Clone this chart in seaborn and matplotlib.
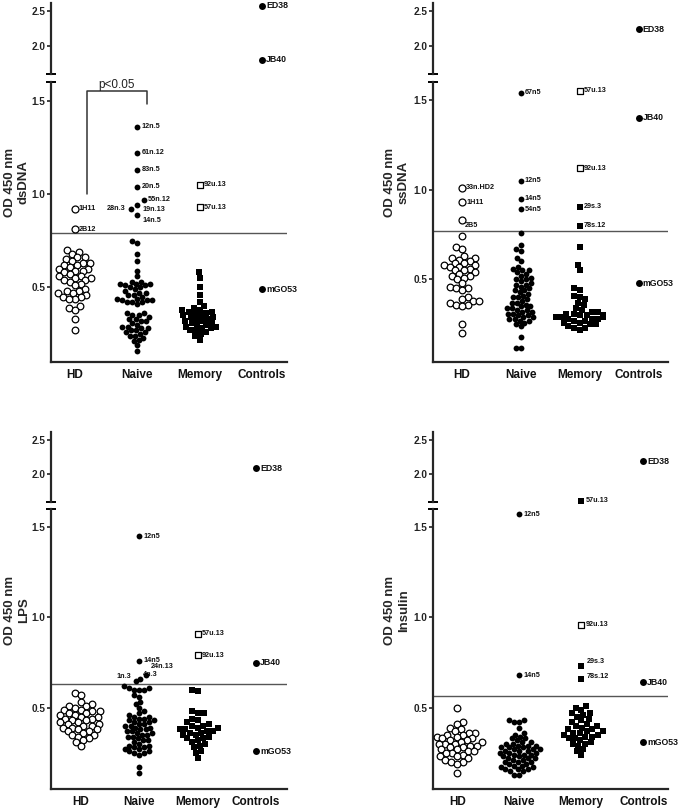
import matplotlib
matplotlib.use("Agg")
import matplotlib.pyplot as plt
import seaborn as sns
import pandas as pd

categories = ['HD', 'Naive', 'Memory', 'Controls']

# ---- dsDNA ----
dsdna_hd = [0.70, 0.69, 0.68, 0.66, 0.66, 0.65, 0.64, 0.63, 0.63, 0.62, 0.62, 0.61, 0.60, 0.60,
            0.59, 0.59, 0.58, 0.57, 0.56, 0.56, 0.55, 0.55, 0.54, 0.54, 0.53, 0.52, 0.51, 0.49,
            0.48, 0.48, 0.47, 0.47, 0.46, 0.45, 0.45, 0.44, 0.44, 0.40, 0.39, 0.38, 0.33, 0.27]
dsdna_naive = [0.75, 0.74, 0.68, 0.64, 0.59, 0.56, 0.53, 0.53, 0.52, 0.52, 0.52, 0.51, 0.51, 0.50,
               0.50, 0.49, 0.48, 0.47, 0.47, 0.46, 0.46, 0.45, 0.44, 0.44, 0.43, 0.43, 0.43, 0.42,
               0.42, 0.42, 0.41, 0.36, 0.36, 0.35, 0.35, 0.34, 0.33, 0.33, 0.32, 0.32, 0.31, 0.30,
               0.29, 0.29, 0.28, 0.28, 0.27, 0.27, 0.26, 0.26, 0.25, 0.24, 0.24, 0.23, 0.22, 0.21,
               0.19, 0.16]
dsdna_memory = [0.58, 0.55, 0.50, 0.46, 0.42, 0.40, 0.39, 0.38, 0.38, 0.37, 0.37, 0.36, 0.36, 0.35,
                0.35, 0.34, 0.34, 0.33, 0.33, 0.32, 0.32, 0.31, 0.31, 0.30, 0.30, 0.29, 0.29, 0.28,
                0.28, 0.27, 0.27, 0.26, 0.25, 0.24, 0.22]
dsdna_flag_names = ['1H11', '2B12', '12n.5', '61n.12', '83n.5', '20n.5', '55n.12', '28n.3',
                    '19n.13', '14n.5', '92u.13', '57u.13', 'ED38', 'JB40', 'mGO53']
dsdna_flag_groups = ['HD', 'HD', 'Naive', 'Naive', 'Naive', 'Naive', 'Naive', 'Naive', 'Naive',
                     'Naive', 'Memory', 'Memory', 'Controls', 'Controls', 'Controls']
dsdna_flag_values = [0.92, 0.81, 1.36, 1.22, 1.13, 1.04, 0.97, 0.92, 0.94, 0.89, 1.05, 0.93,
                     2.57, 1.80, 0.49]
dsdna_flag_open = [1, 1, 0, 0, 0, 0, 0, 0, 0, 0, 1, 1, 0, 0, 0]
dsdna_cutoff = 0.79

# ---- ssDNA ----
ssdna_hd = [0.74, 0.68, 0.67, 0.63, 0.62, 0.62, 0.61, 0.60, 0.59, 0.59, 0.58, 0.58, 0.57, 0.57,
            0.56, 0.55, 0.55, 0.54, 0.53, 0.52, 0.52, 0.51, 0.50, 0.48, 0.46, 0.45, 0.45, 0.44,
            0.40, 0.39, 0.38, 0.38, 0.37, 0.36, 0.36, 0.35, 0.25, 0.20]
ssdna_naive = [0.76, 0.69, 0.67, 0.66, 0.62, 0.60, 0.57, 0.56, 0.55, 0.55, 0.54, 0.53, 0.52, 0.51,
               0.50, 0.50, 0.49, 0.48, 0.47, 0.47, 0.46, 0.45, 0.44, 0.44, 0.43, 0.42, 0.41, 0.40,
               0.40, 0.39, 0.38, 0.37, 0.37, 0.36, 0.35, 0.35, 0.34, 0.34, 0.33, 0.33, 0.32, 0.32,
               0.31, 0.31, 0.30, 0.30, 0.29, 0.29, 0.28, 0.28, 0.27, 0.27, 0.26, 0.25, 0.24, 0.18,
               0.12, 0.12]
ssdna_memory = [0.68, 0.58, 0.55, 0.45, 0.44, 0.41, 0.40, 0.39, 0.37, 0.36, 0.34, 0.33, 0.32, 0.32,
                0.31, 0.31, 0.30, 0.30, 0.30, 0.29, 0.29, 0.29, 0.28, 0.28, 0.28, 0.27, 0.27, 0.26,
                0.26, 0.25, 0.25, 0.24, 0.23, 0.23, 0.22]
ssdna_flag_names = ['33n.HD2', '1H11', '2B5', '67n5', '12n5', '14n5', '54n5', '57u.13', '92u.13',
                    '29s.3', '78s.12', 'ED38', 'JB40', 'mGO53']
ssdna_flag_groups = ['HD', 'HD', 'HD', 'Naive', 'Naive', 'Naive', 'Naive', 'Memory', 'Memory',
                     'Memory', 'Memory', 'Controls', 'Controls', 'Controls']
ssdna_flag_values = [1.01, 0.93, 0.83, 1.54, 1.05, 0.95, 0.89, 1.55, 1.12, 0.905, 0.80,
                     2.24, 1.40, 0.48]
ssdna_flag_open = [1, 1, 1, 0, 0, 0, 0, 1, 1, 0, 0, 0, 0, 0]
ssdna_cutoff = 0.77

# ---- LPS ----
lps_hd = [0.58, 0.57, 0.53, 0.52, 0.51, 0.51, 0.50, 0.49, 0.49, 0.48, 0.48, 0.47, 0.47, 0.46,
          0.46, 0.45, 0.45, 0.44, 0.44, 0.43, 0.43, 0.42, 0.42, 0.41, 0.41, 0.40, 0.40, 0.39,
          0.39, 0.38, 0.38, 0.37, 0.37, 0.36, 0.35, 0.35, 0.34, 0.33, 0.32, 0.31, 0.29]
lps_naive = [0.62, 0.61, 0.61, 0.60, 0.60, 0.60, 0.57, 0.56, 0.53, 0.52, 0.50, 0.48, 0.47, 0.46,
             0.45, 0.45, 0.44, 0.44, 0.43, 0.43, 0.42, 0.42, 0.41, 0.41, 0.40, 0.40, 0.39, 0.39,
             0.38, 0.38, 0.37, 0.37, 0.36, 0.36, 0.35, 0.35, 0.34, 0.34, 0.33, 0.32, 0.32, 0.31,
             0.30, 0.29, 0.29, 0.28, 0.28, 0.27, 0.27, 0.26, 0.26, 0.25, 0.25, 0.24, 0.17, 0.14]
lps_memory = [0.60, 0.59, 0.48, 0.47, 0.47, 0.44, 0.43, 0.42, 0.41, 0.40, 0.40, 0.39, 0.39, 0.38,
              0.38, 0.37, 0.37, 0.36, 0.36, 0.35, 0.35, 0.34, 0.33, 0.33, 0.32, 0.31, 0.30, 0.29,
              0.28, 0.26, 0.25, 0.22]
lps_flag_names = ['12n5', '14n5', '24n.13', '4n.3', '1n.3', '57u.13', '92u.13', 'ED38', 'JB40',
                  'mGO53']
lps_flag_groups = ['Naive', 'Naive', 'Naive', 'Naive', 'Naive', 'Memory', 'Memory', 'Controls',
                   'Controls', 'Controls']
lps_flag_values = [1.45, 0.76, 0.68, 0.66, 0.65, 0.91, 0.79, 2.09, 0.75, 0.26]
lps_flag_open = [0, 0, 0, 0, 0, 1, 1, 0, 0, 0]
lps_cutoff = 0.63

# ---- Insulin ----
ins_hd = [0.50, 0.42, 0.41, 0.39, 0.38, 0.37, 0.36, 0.36, 0.35, 0.35, 0.34, 0.34, 0.33, 0.33,
          0.32, 0.32, 0.31, 0.31, 0.30, 0.30, 0.30, 0.29, 0.29, 0.28, 0.28, 0.27, 0.27, 0.26,
          0.26, 0.25, 0.25, 0.24, 0.23, 0.23, 0.22, 0.21, 0.20, 0.20, 0.19, 0.14]
ins_naive = [0.43, 0.43, 0.42, 0.42, 0.39, 0.36, 0.35, 0.34, 0.33, 0.33, 0.32, 0.31, 0.31, 0.30,
             0.30, 0.29, 0.29, 0.29, 0.28, 0.28, 0.28, 0.27, 0.27, 0.27, 0.26, 0.26, 0.26, 0.25,
             0.25, 0.25, 0.24, 0.24, 0.24, 0.23, 0.23, 0.22, 0.22, 0.22, 0.21, 0.21, 0.20, 0.20,
             0.20, 0.19, 0.19, 0.18, 0.18, 0.17, 0.17, 0.16, 0.16, 0.16, 0.15, 0.15, 0.13, 0.13]
ins_memory = [0.51, 0.50, 0.49, 0.47, 0.47, 0.46, 0.45, 0.44, 0.43, 0.42, 0.41, 0.40, 0.40, 0.39,
              0.38, 0.38, 0.37, 0.37, 0.36, 0.36, 0.35, 0.35, 0.34, 0.34, 0.33, 0.33, 0.32, 0.31,
              0.30, 0.30, 0.29, 0.27, 0.26, 0.24]
ins_flag_names = ['12n5', '14n5', '57u.13', '92u.13', '29s.3', '78s.12', 'ED38', 'JB40', 'mGO53']
ins_flag_groups = ['Naive', 'Naive', 'Memory', 'Memory', 'Memory', 'Memory', 'Controls',
                   'Controls', 'Controls']
ins_flag_values = [1.57, 0.68, 1.62, 0.96, 0.73, 0.66, 2.19, 0.64, 0.31]
ins_flag_open = [0, 0, 0, 1, 0, 0, 0, 0, 0]
ins_cutoff = 0.567

# ---------------------------------------------------------------------------
W, H = 678, 810
SPLIT = 1.6
sns.set_style("ticks")
plt.rcParams['font.family'] = ['Liberation Sans', 'DejaVu Sans']

panels = [
    dict(name='dsDNA', hd=dsdna_hd, naive=dsdna_naive, memory=dsdna_memory,
         fn=dsdna_flag_names, fg=dsdna_flag_groups, fv=dsdna_flag_values, fo=dsdna_flag_open,
         cutoff=dsdna_cutoff,
         box=(51, 287, 3, 74, 82, 362), xlim=(-0.38, 3.4), ylow=0.10, lab_x=17,
         dx={'55n.12': 0.11, '28n.3': -0.10},
         lab={'28n.3': (-4, 0, 'right'), '14n.5': (4, -4, 'left'), '19n.13': (4, -3, 'left')}),
    dict(name='ssDNA', hd=ssdna_hd, naive=ssdna_naive, memory=ssdna_memory,
         fn=ssdna_flag_names, fg=ssdna_flag_groups, fv=ssdna_flag_values, fo=ssdna_flag_open,
         cutoff=ssdna_cutoff,
         box=(433, 668, 3, 74, 82, 362), xlim=(-0.49, 3.5), ylow=0.04, lab_x=397,
         dx={}, lab={'2B5': (2, -4, 'left')}),
    dict(name='LPS', hd=lps_hd, naive=lps_naive, memory=lps_memory,
         fn=lps_flag_names, fg=lps_flag_groups, fv=lps_flag_values, fo=lps_flag_open,
         cutoff=lps_cutoff,
         box=(51, 287, 432, 502, 509, 789), xlim=(-0.51, 3.53), ylow=0.05, lab_x=17,
         dx={'24n.13': 0.12, '1n.3': -0.06, '4n.3': 0.02},
         lab={'1n.3': (-3, 3, 'right'), '4n.3': (2, 3, 'left'), '24n.13': (3, 6, 'left')}),
    dict(name='Insulin', hd=ins_hd, naive=ins_naive, memory=ins_memory,
         fn=ins_flag_names, fg=ins_flag_groups, fv=ins_flag_values, fo=ins_flag_open,
         cutoff=ins_cutoff,
         box=(433, 668, 432, 502, 509, 789), xlim=(-0.39, 3.4), ylow=0.05, lab_x=397,
         dx={}, lab={'29s.3': (4, 3, 'left'), '78s.12': (4, 2, 'left')}),
]

# swarm layout size vs. drawn size (GraphPad-style dots overlap a little)
swarm_styles = {
    'HD': dict(marker='o', size=3.35, color='white', edgecolor='black', linewidth=0.9),
    'Naive': dict(marker='o', size=3.6, color='black', linewidth=0),
    'Memory': dict(marker='s', size=4.1, color='black', linewidth=0),
}
drawn_size = {'HD': 4.8, 'Naive': 4.2, 'Memory': 4.4}

fig = plt.figure(figsize=(W / 100, H / 100), dpi=100)
swarm_colls = []

for p in panels:
    x0, x1, ut, ub, lt, lb = p['box']
    ax_up = fig.add_axes([x0 / W, 1 - ub / H, (x1 - x0) / W, (ub - ut) / H])
    ax_low = fig.add_axes([x0 / W, 1 - lb / H, (x1 - x0) / W, (lb - lt) / H])

    for grp, vals in [('HD', p['hd']), ('Naive', p['naive']), ('Memory', p['memory'])]:
        df = pd.DataFrame({'group': grp, 'od': vals})
        n_before = len(ax_low.collections)
        sns.swarmplot(data=df, x='group', y='od', order=categories, ax=ax_low,
                      warn_thresh=1.0, **swarm_styles[grp])
        for c in ax_low.collections[n_before:]:
            swarm_colls.append((c, drawn_size[grp]))

    # flagged (labelled) clones and controls
    for name, grp, val, is_open in zip(p['fn'], p['fg'], p['fv'], p['fo']):
        ax = ax_up if val > SPLIT else ax_low
        x = categories.index(grp) + p['dx'].get(name, 0)
        marker = 's' if grp == 'Memory' else 'o'
        ctrl = grp == 'Controls'
        size = 5.0 if (ctrl or grp == 'HD') else 4.2
        ax.scatter([x], [val], s=size ** 2, marker=marker,
                   facecolor='white' if is_open else 'black', edgecolor='black',
                   linewidth=0.9 if is_open else 0, clip_on=False, zorder=4)
        dxp, dyp, ha = p['lab'].get(name, (3, 0, 'left'))
        ax.annotate(name, (x, val), xytext=(dxp, dyp), textcoords='offset points',
                    ha=ha, va='center', fontweight='bold',
                    fontsize=6.3 if ctrl else 5.2, color='#111')

    ax_low.axhline(p['cutoff'], color='#555555', lw=1.0, zorder=1)

    for ax in (ax_up, ax_low):
        ax.set_xlim(*p['xlim'])
        ax.set_xlabel('')
        ax.set_ylabel('')
        ax.spines['top'].set_visible(False)
        ax.spines['right'].set_visible(False)
        ax.spines['left'].set_linewidth(1.6)
        ax.tick_params(axis='y', length=3, width=1.2, labelsize=7.2, pad=1, colors='#222')
        ax.patch.set_alpha(0)

    ax_up.set_ylim(SPLIT, 2.61)
    ax_up.set_yticks([2.0, 2.5])
    ax_up.spines['bottom'].set_visible(False)
    ax_up.set_xticks([])
    ax_low.set_ylim(p['ylow'], SPLIT)
    ax_low.set_yticks([0.5, 1.0, 1.5])
    ax_low.spines['bottom'].set_linewidth(1.6)
    ax_low.set_xticks(range(len(categories)))
    ax_low.set_xticklabels(categories, fontsize=8.5, fontweight='bold')
    ax_low.tick_params(axis='x', length=0, pad=5, colors='#111')
    for ax in (ax_up, ax_low):
        for t in ax.get_yticklabels():
            t.set_fontweight('bold')

    # axis break caps
    ax_up.plot([0], [0], marker='_', ms=7, mew=1.4, color='black',
               transform=ax_up.transAxes, clip_on=False)
    ax_low.plot([0], [1], marker='_', ms=7, mew=1.4, color='black',
                transform=ax_low.transAxes, clip_on=False)

    fig.text(p['lab_x'] / W, 1 - ((ut + lb) / 2) / H, 'OD 450 nm\n' + p['name'],
             rotation=90, ha='center', va='center', fontsize=9.5, fontweight='bold',
             multialignment='center')

    if p['name'] == 'dsDNA':
        bx = [0.19, 0.19, 1.15, 1.15]
        by = [1.0, 1.55, 1.55, 1.48]
        ax_low.plot(bx, by, color='#333333', lw=1.1, clip_on=False)
        ax_low.text(0.67, 1.585, 'p<0.05', ha='center', va='center', fontsize=8.5, color='#222')

# lay the swarms out with the small size, then freeze them and draw the dots a bit bigger
fig.canvas.draw()
for coll, s in swarm_colls:
    if 'draw' in coll.__dict__:
        del coll.__dict__['draw']
    coll.set_sizes([s ** 2])

fig.savefig('out.png', dpi=100)
